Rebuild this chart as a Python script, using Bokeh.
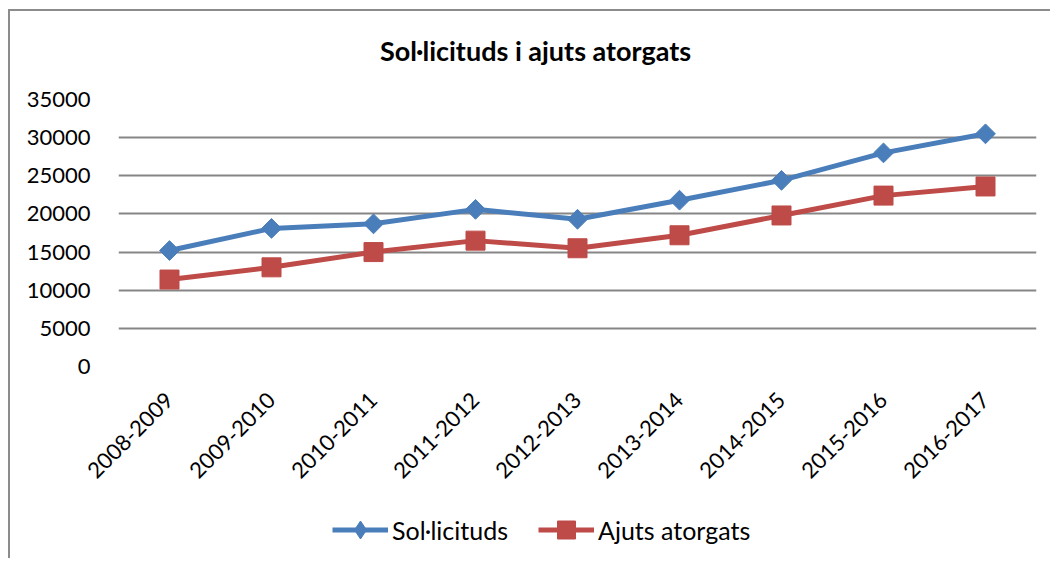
import math
from bokeh.plotting import figure
from bokeh.layouts import column
from bokeh.models import FactorRange, Range1d, FixedTicker, Legend, LegendItem, Label
from bokeh.embed import file_html
from bokeh.resources import INLINE

# ---- data ----
cursos = ["2008-2009", "2009-2010", "2010-2011", "2011-2012", "2012-2013",
          "2013-2014", "2014-2015", "2015-2016", "2016-2017"]
solicituds = [15200, 18100, 18700, 20600, 19300, 21800, 24400, 28000, 30500]
ajuts = [11400, 13000, 15000, 16500, 15500, 17200, 19800, 22400, 23600]
y_ticks = [0, 5000, 10000, 15000, 20000, 25000, 30000, 35000]
title_text = "Sol·licituds i ajuts atorgats"
series_names = ["Sol·licituds", "Ajuts atorgats"]

BLUE = "#4A7EBB"
RED = "#BE4B48"
GRID = "#868686"
FONT = "Lato"
W = 1040
BL, BR = 108, 14          # left / right borders around the plotting frame
FW = W - BL - BR          # frame width


def strip(height):
    f = figure(width=W, height=height, output_backend="svg", toolbar_location=None,
               x_axis_type=None, y_axis_type=None,
               x_range=Range1d(0, FW), y_range=Range1d(0, height),
               min_border_left=BL, min_border_right=BR,
               min_border_top=0, min_border_bottom=0)
    f.outline_line_color = None
    f.background_fill_color = "white"
    f.border_fill_color = "white"
    return f


# ---- header with title ----
head = strip(60)
head.add_layout(Label(x=417, y=21, text=title_text, text_align="center",
                      text_baseline="middle", text_font=FONT, text_font_style="bold",
                      text_font_size="27px", text_color="black"))

# ---- main chart ----
p = figure(width=W, height=429, output_backend="svg", toolbar_location=None,
           x_range=FactorRange(*cursos), y_range=Range1d(0, 35000),
           min_border_left=BL, min_border_right=BR, min_border_top=28, min_border_bottom=134)
p.outline_line_color = None
p.background_fill_color = "white"
p.border_fill_color = "white"

p.xgrid.grid_line_color = None
p.ygrid.grid_line_color = GRID
p.ygrid.grid_line_width = 2
p.yaxis.ticker = FixedTicker(ticks=y_ticks)

for ax in (p.xaxis[0], p.yaxis[0]):
    ax.axis_line_color = None
    ax.major_tick_line_color = None
    ax.minor_tick_line_color = None
    ax.major_label_text_font = FONT
    ax.major_label_text_font_size = "22px"
    ax.major_label_text_color = "black"
p.yaxis.major_label_standoff = 22
p.xaxis.major_label_standoff = 24
p.xaxis.major_label_orientation = math.pi / 4

p.line(cursos, solicituds, line_color=BLUE, line_width=5)
p.scatter(cursos, solicituds, marker="square", size=14, angle=math.pi / 4,
          fill_color=BLUE, line_color=BLUE)
p.line(cursos, ajuts, line_color=RED, line_width=5)
p.scatter(cursos, ajuts, marker="square", size=19, fill_color=RED, line_color=RED)

# ---- legend strip (hidden copies of the series provide the legend glyphs) ----
lf = strip(58)
idx = list(range(len(cursos)))
k1 = lf.line(idx, solicituds, line_color=BLUE, line_width=5, visible=False)
d1 = lf.scatter(idx, solicituds, marker="diamond", fill_color=BLUE, line_color=BLUE, visible=False)
k2 = lf.line(idx, ajuts, line_color=RED, line_width=5, visible=False)
d2 = lf.scatter(idx, ajuts, marker="square", fill_color=RED, line_color=RED, visible=False)
legend = Legend(items=[LegendItem(label=series_names[0], renderers=[k1, d1]),
                       LegendItem(label=series_names[1], renderers=[k2, d2])],
                orientation="horizontal", location=(214, 6),
                padding=0, margin=0, spacing=30, label_standoff=4,
                glyph_width=56, glyph_height=45,
                label_text_font=FONT, label_text_font_size="25px",
                label_text_color="black",
                border_line_color=None, background_fill_alpha=0)
lf.add_layout(legend, "center")

layout = column(head, p, lf, spacing=0)
layout.styles = {"margin-left": "8px", "margin-top": "9px",
                 "border-left": "2px solid #8c8c8c", "border-top": "2px solid #8c8c8c"}

open("out.html", "w").write(file_html(layout, INLINE))
